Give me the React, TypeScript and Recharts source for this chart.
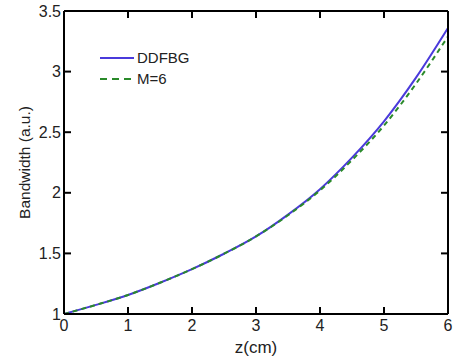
import { LineChart, Line, XAxis, YAxis, Label } from "recharts";

// values
const zValues = [0, 0.5, 1, 1.5, 2, 2.5, 3, 3.5, 4, 4.5, 5, 5.5, 6];
const ddfbg = [1.0, 1.075, 1.157, 1.258, 1.37, 1.497, 1.64, 1.82, 2.03, 2.29, 2.59, 2.95, 3.36];
const m6 = [1.0, 1.075, 1.157, 1.258, 1.37, 1.497, 1.64, 1.815, 2.02, 2.27, 2.555, 2.9, 3.29];
const xTicks = [0, 1, 2, 3, 4, 5, 6];
const yTicks = [1, 1.5, 2, 2.5, 3, 3.5];

const X_MIN = 0;
const X_MAX = 6;
const Y_MIN = 1;
const Y_MAX = 3.5;

const W = 454;
const H = 356;
const MARGIN = { top: 10, right: 5, bottom: 0, left: 0 };
const Y_AXIS_W = 64;
const X_AXIS_H = 42;
const FRAME_AXIS = 1; // top / right frame axes

const BLUE = "#4a3adb";
const GREEN = "#2a8a2a";
const FONT = "'Liberation Sans', Arial, sans-serif";
const TICK_LEN = 7;

const data = zValues.map((z, i) => ({ z, ddfbg: ddfbg[i], m6: m6[i] }));

const tickStyle = { fontSize: 16, fill: "#222", fontFamily: FONT };
const frame = { stroke: "#000", strokeWidth: 2 };

// plot box, same layout recharts uses from the margins/axis sizes above
const plotLeft = MARGIN.left + Y_AXIS_W;
const plotRight = W - MARGIN.right - FRAME_AXIS;
const plotTop = MARGIN.top + FRAME_AXIS;
const plotBottom = H - MARGIN.bottom - X_AXIS_H;
const sx = (v: number) => plotLeft + ((v - X_MIN) / (X_MAX - X_MIN)) * (plotRight - plotLeft);
const sy = (v: number) => plotBottom - ((v - Y_MIN) / (Y_MAX - Y_MIN)) * (plotBottom - plotTop);

// MATLAB style inward ticks on all four sides
function InwardTicks() {
  return (
    <svg width={W} height={H} style={{ position: "absolute", left: 0, top: 0, pointerEvents: "none" }}>
      {xTicks.map((t) => (
        <g key={`x${t}`} stroke="#000" strokeWidth={2}>
          <line x1={sx(t)} y1={plotBottom} x2={sx(t)} y2={plotBottom - TICK_LEN} />
          <line x1={sx(t)} y1={plotTop} x2={sx(t)} y2={plotTop + TICK_LEN} />
        </g>
      ))}
      {yTicks.map((t) => (
        <g key={`y${t}`} stroke="#000" strokeWidth={2}>
          <line x1={plotLeft} y1={sy(t)} x2={plotLeft + TICK_LEN} y2={sy(t)} />
          <line x1={plotRight} y1={sy(t)} x2={plotRight - TICK_LEN} y2={sy(t)} />
        </g>
      ))}
    </svg>
  );
}

function LegendBox() {
  return (
    <div style={{ position: "absolute", left: 98, top: 47, fontFamily: FONT, fontSize: 15, color: "#222" }}>
      <div style={{ display: "flex", alignItems: "center", height: 21 }}>
        <svg width={38} height={6}>
          <line x1={2} y1={3} x2={36} y2={3} stroke={BLUE} strokeWidth={2} />
        </svg>
        <span style={{ marginLeft: 1 }}>DDFBG</span>
      </div>
      <div style={{ display: "flex", alignItems: "center", height: 21 }}>
        <svg width={38} height={6}>
          <line x1={2} y1={3} x2={36} y2={3} stroke={GREEN} strokeWidth={2} strokeDasharray="7 5" />
        </svg>
        <span style={{ marginLeft: 1 }}>M=6</span>
      </div>
    </div>
  );
}

export default function App() {
  return (
    <div style={{ position: "absolute", left: 0, top: 0, width: W, height: H, background: "#fff" }}>
      <LineChart width={W} height={H} data={data} margin={MARGIN}>
        <XAxis
          dataKey="z"
          type="number"
          domain={[X_MIN, X_MAX]}
          ticks={xTicks}
          height={X_AXIS_H}
          tickSize={0}
          tickMargin={6}
          tickLine={false}
          tick={tickStyle}
          axisLine={frame}
        >
          <Label value="z(cm)" position="insideBottom" offset={3} fontSize={17} fill="#222" fontFamily={FONT} />
        </XAxis>
        <XAxis
          xAxisId="top"
          orientation="top"
          dataKey="z"
          type="number"
          domain={[X_MIN, X_MAX]}
          ticks={xTicks}
          height={FRAME_AXIS}
          tick={false}
          tickLine={false}
          axisLine={frame}
        />
        <YAxis
          type="number"
          domain={[Y_MIN, Y_MAX]}
          ticks={yTicks}
          width={Y_AXIS_W}
          tickSize={0}
          tickMargin={3}
          tickLine={false}
          tick={tickStyle}
          axisLine={frame}
        >
          <Label
            value="Bandwidth (a.u.)"
            angle={-90}
            position="insideLeft"
            offset={24}
            fontSize={15.5}
            fill="#222"
            fontFamily={FONT}
            style={{ textAnchor: "middle" }}
          />
        </YAxis>
        <YAxis
          yAxisId="right"
          orientation="right"
          type="number"
          domain={[Y_MIN, Y_MAX]}
          ticks={yTicks}
          width={FRAME_AXIS}
          tick={false}
          tickLine={false}
          axisLine={frame}
        />
        <Line
          type="monotone"
          dataKey="ddfbg"
          stroke={BLUE}
          strokeWidth={2}
          dot={false}
          isAnimationActive={false}
        />
        <Line
          type="monotone"
          dataKey="m6"
          stroke={GREEN}
          strokeWidth={2}
          strokeDasharray="5 4"
          dot={false}
          isAnimationActive={false}
        />
      </LineChart>
      <InwardTicks />
      <LegendBox />
    </div>
  );
}
